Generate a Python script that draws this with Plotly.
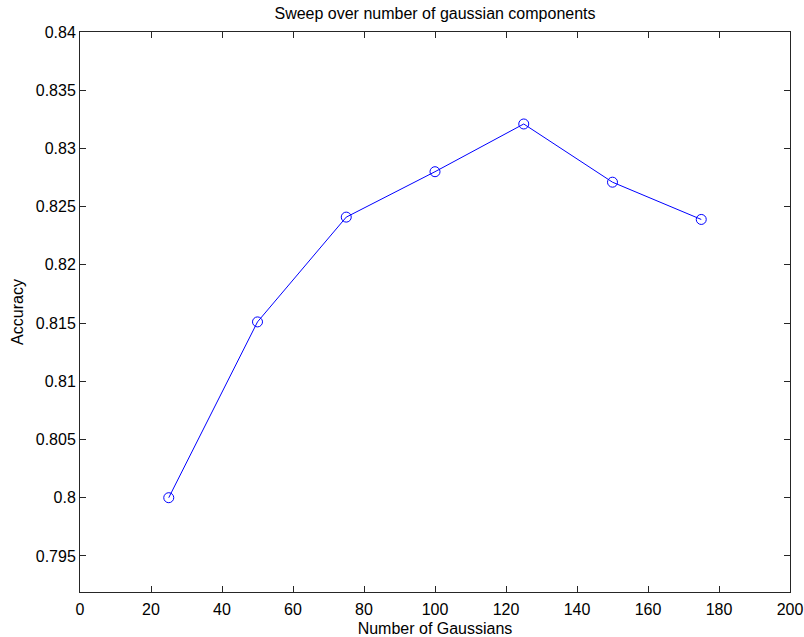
import plotly.graph_objects as go

# Sweep results: number of Gaussian mixture components vs. accuracy
n_gaussians = [25, 50, 75, 100, 125, 150, 175]
accuracy = [0.8000, 0.8151, 0.8241, 0.8280, 0.8321, 0.8271, 0.8239]

x_ticks = [0, 20, 40, 60, 80, 100, 120, 140, 160, 180, 200]
y_ticks = [0.795, 0.80, 0.805, 0.81, 0.815, 0.82, 0.825, 0.83, 0.835, 0.84]
y_tick_text = ["0.795", "0.8", "0.805", "0.81", "0.815", "0.82", "0.825", "0.83", "0.835", "0.84"]

font_family = "Liberation Sans, Arial, sans-serif"
font_size = 16
axis_color = "#262626"

fig = go.Figure(
    go.Scatter(
        x=n_gaussians,
        y=accuracy,
        mode="lines+markers",
        line=dict(color="#0000FF", width=1),
        marker=dict(symbol="circle-open", size=10, color="#0000FF", line=dict(width=1)),
        showlegend=False,
    )
)

axis_common = dict(
    showgrid=False,
    zeroline=False,
    showline=True,
    linecolor=axis_color,
    linewidth=1,
    mirror="ticks",
    ticks="inside",
    ticklen=6,
    tickwidth=1,
    tickcolor=axis_color,
    automargin=False,
    tickfont=dict(family=font_family, size=font_size, color="black"),
)

fig.update_xaxes(
    range=[0, 200],
    tickvals=x_ticks,
    ticklabelstandoff=3,
    title=dict(text="Number of Gaussians", font=dict(family=font_family, size=font_size, color="black"), standoff=5),
    **axis_common,
)
fig.update_yaxes(
    range=[0.7919, 0.84],
    tickvals=y_ticks,
    ticktext=y_tick_text,
    title=dict(text="Accuracy", font=dict(family=font_family, size=font_size, color="black"), standoff=8),
    **axis_common,
)

fig.update_layout(
    width=804,
    height=637,
    margin=dict(l=80, r=14, t=32, b=45),
    paper_bgcolor="white",
    plot_bgcolor="white",
    title=dict(
        text="Sweep over number of gaussian components",
        font=dict(family=font_family, size=font_size, color="black"),
        x=0.5,
        xanchor="center",
        xref="paper",
        y=1 - 13 / 637,
        yanchor="middle",
    ),
)

fig.write_html("out.html")
